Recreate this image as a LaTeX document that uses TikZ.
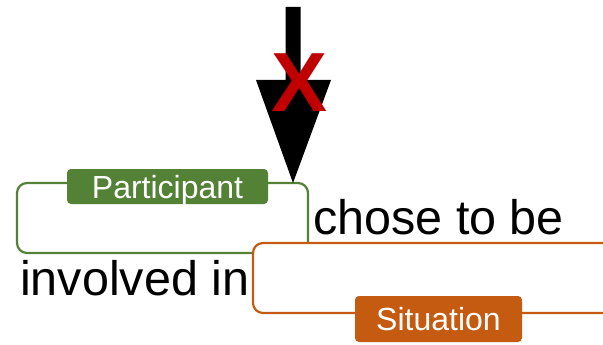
\documentclass[tikz,border=0pt]{standalone}
\usepackage{fontspec}
\setmainfont{Liberation Sans}
\definecolor{partgreen}{RGB}{83,129,53}
\definecolor{sitorange}{RGB}{197,90,17}
\definecolor{crossred}{RGB}{192,0,0}
\tikzset{
  frame/.style={line width=2.2pt, rounded corners=10pt, fill=white},
  tag/.style={rounded corners=4pt, text=white, inner xsep=0pt,
    text height=23pt, text depth=0pt,
    font=\fontsize{32}{38}\selectfont},
  phrase/.style={inner sep=0pt, anchor=base west, text=black,
    font=\fontsize{48.5}{56}\selectfont},
}
\begin{document}
\begin{tikzpicture}[x=1pt, y=-1pt]
  \useasboundingbox (0,0) rectangle (603,345);
  \clip (0,0) rectangle (603,345);

  % participant frame and situation frame (the latter on top)
  \draw[frame, draw=partgreen] (17,183) rectangle (308,253);
  \draw[frame, draw=sitorange] (253,243) rectangle (640,313);

  % tags sitting on the frame borders
  \node[tag, fill=partgreen, minimum width=201pt, inner ysep=6pt]
    (participant) at (167.5,186.5) {Participant};
  \node[tag, fill=sitorange, minimum width=167pt, inner ysep=11.5pt]
    (situation) at (438.5,319) {Situation};

  % sentence fragments
  \node[phrase] (chose) at (313,234) {chose to be};
  \node[phrase] (involved) at (20,295) {involved in};

  % block arrow pointing at the participant frame
  \coordinate (tip) at (293,183);
  \fill[black] (285.5,7) -- (300.5,7) -- (300.5,80) -- (331,80) -- (tip)
    -- (256,80) -- (285.5,80) -- cycle;

  % red cross over the arrow
  \node[inner sep=0pt, anchor=base, text=crossred,
    font=\fontsize{84}{90}\selectfont\bfseries] (cross) at (300,111) {X};
\end{tikzpicture}
\end{document}
